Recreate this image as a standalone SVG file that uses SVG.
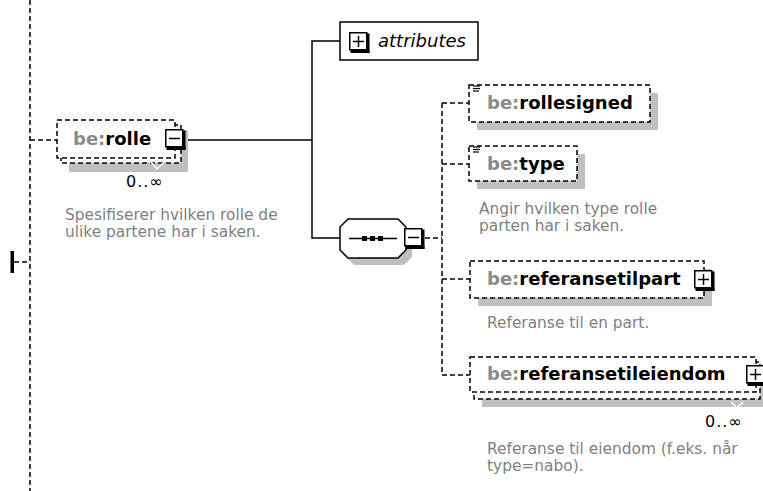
<svg xmlns="http://www.w3.org/2000/svg" width="763" height="491" viewBox="0 0 763 491">
<style>
.dash{stroke:#000;stroke-width:1.5;stroke-dasharray:5 3;fill:none}
.solid{stroke:#000;stroke-width:1.5;fill:none}
.shadow{fill:#c0c0c0}
.box{fill:#fff;stroke:#000;stroke-width:1.5;stroke-dasharray:5 3}
.name{font-family:"DejaVu Sans",sans-serif;font-weight:bold;font-size:18px;fill:#000}
.ns{fill:#8a8a8a}
.desc{font-family:"DejaVu Sans",sans-serif;font-size:15.4px;fill:#808080}
.occ{font-family:"DejaVu Sans",sans-serif;font-size:16px;letter-spacing:1px;fill:#000}
.ital{font-family:"DejaVu Sans",sans-serif;font-style:italic;font-size:18px;fill:#000}
</style>
<defs>
<g id="iconbase">
<rect x="0.75" y="0.75" width="17" height="17" fill="#fff" stroke="#000" stroke-width="1.5"/>
<rect x="17.5" y="1.5" width="3" height="19.5" fill="#000"/>
<rect x="1.5" y="17.5" width="19" height="3.5" fill="#000"/>
</g>
<g id="minus"><use href="#iconbase"/><line x1="4" y1="9.5" x2="15" y2="9.5" stroke="#000" stroke-width="1.5"/></g>
<g id="plus"><use href="#iconbase"/><line x1="4" y1="9.5" x2="15" y2="9.5" stroke="#000" stroke-width="1.5"/><line x1="9.5" y1="4" x2="9.5" y2="15" stroke="#000" stroke-width="1.5"/></g>
<g id="simple"><line x1="0" y1="0" x2="7" y2="0" stroke="#000" stroke-width="1.2"/><line x1="0" y1="2.5" x2="7" y2="2.5" stroke="#000" stroke-width="1.2"/><line x1="0" y1="5" x2="6" y2="5" stroke="#000" stroke-width="1.2"/></g>
</defs>

<g id="connectors">
<line class="dash" x1="30" y1="0" x2="30" y2="491"/>
<rect x="10.5" y="251" width="3.5" height="22" fill="#000"/>
<line class="dash" x1="14" y1="262" x2="30" y2="262"/>
<line class="dash" x1="30" y1="140" x2="57" y2="140"/>
<polyline class="solid" points="185,140 312,140"/>
<polyline class="solid" points="340,41 312,41 312,238 340,238"/>
<line class="dash" x1="425" y1="238" x2="442" y2="238"/>
<line class="dash" x1="442" y1="103" x2="442" y2="375"/>
<line class="dash" x1="442" y1="103" x2="469" y2="103"/>
<line class="dash" x1="442" y1="164" x2="469" y2="164"/>
<line class="dash" x1="442" y1="279" x2="470" y2="279"/>
<line class="dash" x1="442" y1="375" x2="470" y2="375"/>
</g>

<g id="rolle">
<rect class="shadow" x="69" y="130" width="119" height="42"/>
<rect class="box" x="61" y="125" width="120" height="38"/>
<rect class="box" x="57" y="120" width="118" height="38"/>
<polyline points="151,162 157,169 163,163" fill="none" stroke="#fff" stroke-width="1.5"/>
<text class="name" x="73" y="145"><tspan class="ns">be:</tspan>rolle</text>
<use href="#minus" x="165" y="129"/>
<text class="occ" x="126" y="187">0..∞</text>
<text class="desc" x="65" y="219.5">Spesifiserer hvilken rolle de</text>
<text class="desc" x="65" y="236.5">ulike partene har i saken.</text>
</g>

<g id="attributes">
<rect x="340" y="22" width="138" height="38" fill="#fff" stroke="#000" stroke-width="1.5"/>
<use href="#plus" x="349" y="32"/>
<text class="ital" x="378" y="46.5">attributes</text>
</g>

<g id="sequence">
<polygon class="shadow" transform="translate(6,7)" points="348,219 398,219 406,227 406,250 398,258 348,258 340,250 340,227"/>
<polygon points="348,219 398,219 406,227 406,250 398,258 348,258 340,250 340,227" fill="#fff" stroke="#000" stroke-width="1.5"/>
<line x1="349" y1="238.5" x2="397" y2="238.5" stroke="#000" stroke-width="1.5"/>
<rect x="362" y="236" width="5" height="5" fill="#000"/>
<rect x="370" y="236" width="5" height="5" fill="#000"/>
<rect x="378" y="236" width="5" height="5" fill="#000"/>
<use href="#minus" x="404" y="228"/>
</g>

<g id="rollesigned">
<rect class="shadow" x="477" y="93" width="181" height="37"/>
<rect class="box" x="469" y="85" width="181" height="37"/>
<use href="#simple" x="473" y="86"/>
<text class="name" x="487" y="109"><tspan class="ns">be:</tspan>rollesigned</text>
</g>

<g id="type">
<rect class="shadow" x="477" y="154" width="108" height="35"/>
<rect class="box" x="469" y="146" width="108" height="35"/>
<use href="#simple" x="473" y="147"/>
<text class="name" x="487" y="169.5"><tspan class="ns">be:</tspan>type</text>
<text class="desc" x="479" y="214">Angir hvilken type rolle</text>
<text class="desc" x="479" y="231">parten har i saken.</text>
</g>

<g id="referansetilpart">
<rect class="shadow" x="478" y="269" width="234" height="37"/>
<rect class="box" x="470" y="261" width="234" height="37"/>
<text class="name" x="487" y="285"><tspan class="ns">be:</tspan>referansetilpart</text>
<use href="#plus" x="694" y="270"/>
<text class="desc" x="487" y="328">Referanse til en part.</text>
</g>

<g id="referansetileiendom">
<rect class="shadow" x="482" y="370" width="290" height="37"/>
<rect class="box" x="474" y="362" width="286" height="37"/>
<rect class="box" x="470" y="357" width="286" height="35"/>
<polyline points="731,402 737,408 743,402" fill="none" stroke="#fff" stroke-width="1.5"/>
<text class="name" x="487" y="380"><tspan class="ns">be:</tspan>referansetileiendom</text>
<use href="#plus" x="746" y="365"/>
<text class="occ" x="705" y="426.5">0..∞</text>
<text class="desc" x="487" y="454">Referanse til eiendom (f.eks. når</text>
<text class="desc" x="487" y="471">type=nabo).</text>
</g>
</svg>
